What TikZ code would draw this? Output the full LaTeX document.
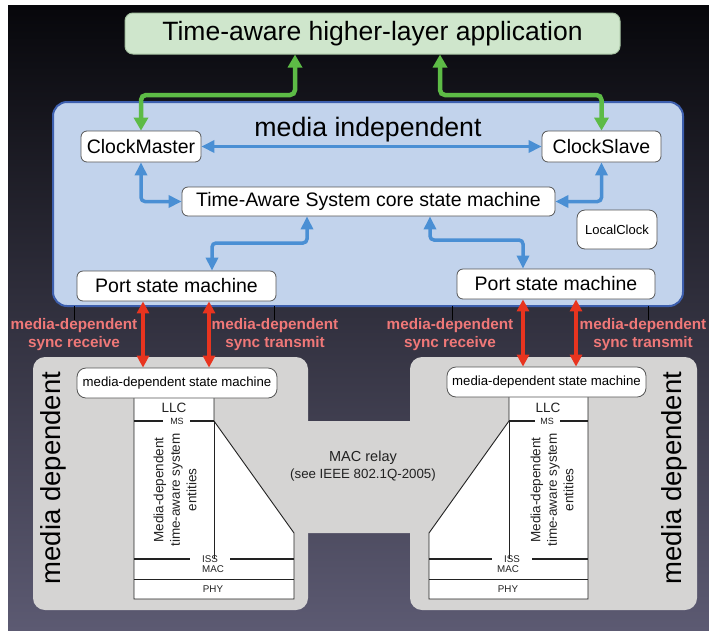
\documentclass[tikz,border=0pt]{standalone}
\usepackage{fontspec}
\setmainfont{Liberation Sans}
\usetikzlibrary{arrows.meta,calc}
\definecolor{bgtop}{HTML}{07070B}
\definecolor{bgmid}{HTML}{24243A}
\definecolor{bgbot}{HTML}{5C5A72}
\definecolor{appfill}{HTML}{CFE6CC}
\definecolor{appline}{HTML}{A8C4A4}
\definecolor{bluefill}{HTML}{C2D3EC}
\definecolor{bluebd}{HTML}{3D5FAE}
\definecolor{boxline}{HTML}{555555}
\definecolor{grayfill}{HTML}{D5D4D3}
\definecolor{garr}{HTML}{5DBB46}
\definecolor{barr}{HTML}{4A8FD4}
\definecolor{rarr}{HTML}{E8341F}
\definecolor{pinklbl}{HTML}{F07878}
\definecolor{strk}{HTML}{222222}
\begin{document}
\begin{tikzpicture}[x=1pt,y=-1pt,
  wbox/.style={draw=boxline, fill=white, rounded corners=6pt, line width=0.8pt, inner sep=0pt, text=black},
  bigf/.style={font=\fontsize{19.5}{23}\selectfont},
  garrow/.style={draw=garr, line width=4.5pt, rounded corners=5pt, {Triangle[width=14pt,length=13pt]}-{Triangle[width=14pt,length=13pt]}},
  barrow/.style={draw=barr, line width=3.5pt, rounded corners=4pt, {Triangle[width=12pt,length=13pt]}-{Triangle[width=12pt,length=13pt]}},
  rarrow/.style={draw=rarr, line width=3.5pt, {Triangle[width=12pt,length=12pt]}-{Triangle[width=12pt,length=12pt]}},
  plbl/.style={text=pinklbl, font=\bfseries\fontsize{15.3}{18}\selectfont, align=center, inner sep=0pt},
  strline/.style={draw=strk, line width=0.9pt},
  boldline/.style={draw=strk, line width=1.4pt},
  tiny/.style={font=\fontsize{9}{10}\selectfont, inner sep=0pt, text=strk},
  small/.style={font=\fontsize{9.8}{11}\selectfont, inner sep=0pt, text=strk},
  vtext/.style={rotate=90, align=center, font=\fontsize{13.5}{16.5}\selectfont, inner sep=0pt, text=strk},
  mdtext/.style={rotate=90, font=\fontsize{27.5}{30}\selectfont, inner sep=0pt, text=black}
]
\useasboundingbox (0,0) rectangle (709,630);
\fill[white] (0,0) rectangle (709,630);
\shade[top color=bgtop, middle color=bgmid, bottom color=bgbot] (8,5) rectangle (709,630);

% top application box
\node[fill=appfill, draw=appline, line width=1pt, rounded corners=8pt, minimum width=495pt, minimum height=41pt, inner sep=0pt, font=\fontsize{26.5}{30}\selectfont] (app) at (372.5,33.5) {Time-aware higher-layer application};

% media independent box
\node[draw=bluebd, fill=bluefill, line width=2pt, rounded corners=14pt, minimum width=630pt, minimum height=204pt, inner sep=0pt] (mi) at (368,204) {};
\node[font=\fontsize{26.7}{30}\selectfont, inner sep=0pt] (mitext) at (368,130) {media independent};

\node[wbox, bigf, minimum width=120pt, minimum height=31pt] (cm) at (141,146.5) {ClockMaster};
\node[wbox, bigf, minimum width=119pt, minimum height=31pt] (cs) at (601.5,146.5) {ClockSlave};
\node[wbox, bigf, minimum width=373pt, minimum height=29pt] (core) at (368.5,201.5) {Time-Aware System core state machine};
\node[wbox, font=\fontsize{13}{15}\selectfont, minimum width=80pt, minimum height=39pt, rounded corners=8pt] (lc) at (617,229.5) {LocalClock};
\node[wbox, bigf, minimum width=199pt, minimum height=30pt] (lport) at (176.5,286) {Port state machine};
\node[wbox, bigf, minimum width=198pt, minimum height=30pt] (rport) at (556,284) {Port state machine};

% coordinates for bends
\coordinate (gl) at (295,95);
\coordinate (gr) at (440,95);
\coordinate (bl1) at (307,243);
\coordinate (bl2) at (212,243);
\coordinate (br1) at (430,240);
\coordinate (br2) at (523,240);

% green arrows
\draw[garrow] (cm.north) |- (gl) -- (app.south -| gl);
\draw[garrow] (app.south -| gr) -- (gr) -| (cs.north);

% blue arrows
\draw[barrow] (cm.east) -- (cs.west);
\draw[barrow] (cm.south) |- (core.west);
\draw[barrow] (cs.south) |- (core.east);
\draw[barrow] (core.south -| bl1) -- (bl1) -- (bl2) -- (lport.north -| bl2);
\draw[barrow] (core.south -| br1) -- (br1) -- (br2) -- (rport.north -| br2);

% small ticks below the blue box
\foreach \tx/\tn in {74/ta,274/tb,452/tc,648/td}{
  \coordinate (\tn1) at (\tx,306);
  \coordinate (\tn2) at (\tx,320);
  \draw[draw=black, line width=0.9pt] (\tn1) -- (\tn2);
}

% media dependent gray boxes
\node[fill=grayfill, rounded corners=12pt, minimum width=275pt, minimum height=253pt, inner sep=0pt] (lgray) at (170.5,483.5) {};
\node[fill=grayfill, rounded corners=12pt, minimum width=287pt, minimum height=253pt, inner sep=0pt] (rgray) at (553.5,483.5) {};

% MAC relay trapezoid
\fill[grayfill] (214,421) -- (509,421) -- (429,533) -- (294,533) -- cycle;
\node[font=\fontsize{14.5}{16}\selectfont, inner sep=0pt, text=strk] (relay1) at (363,458) {MAC relay};
\node[font=\fontsize{13.3}{15}\selectfont, inner sep=0pt, text=strk] (relay2) at (363,475) {(see IEEE 802.1Q-2005)};

% left stack
\fill[white] (134,397) rectangle (214,421);
\fill[white] (134,421) -- (214,421) -- (294,533) -- (294,599) -- (134,599) -- cycle;
\draw[strline] (134,397) -- (134,599) -- (294,599) -- (294,533) -- (214,421) -- (214,397);
\draw[strline] (214,421) -- (214,559);
\draw[boldline] (134,421) -- (163,421);
\draw[boldline] (190,421) -- (214,421);
\draw[boldline] (134,559) -- (190,559);
\draw[boldline] (230,559) -- (294,559);
\draw[strline] (134,579) -- (294,579);
\node[font=\fontsize{13.5}{15}\selectfont, inner sep=0pt, text=strk] (llcL) at (174,408) {LLC};
\node[tiny] (msL) at (177,421) {MS};
\node[small] (issL) at (210,559) {ISS};
\node[small] (macL) at (213,569.5) {MAC};
\node[small] (phyL) at (213,589.5) {PHY};
\node[vtext] (entL) at (175,490) {Media-dependent\\time-aware system\\entities};

% right stack
\fill[white] (509,397) rectangle (588,421);
\fill[white] (509,421) -- (588,421) -- (588,599) -- (429,599) -- (429,533) -- cycle;
\draw[strline] (509,397) -- (509,421) -- (429,533) -- (429,599) -- (588,599) -- (588,397);
\draw[strline] (509,421) -- (509,559);
\draw[boldline] (509,421) -- (535,421);
\draw[boldline] (560,421) -- (588,421);
\draw[boldline] (429,559) -- (492,559);
\draw[boldline] (532,559) -- (588,559);
\draw[strline] (429,579) -- (588,579);
\node[font=\fontsize{13.5}{15}\selectfont, inner sep=0pt, text=strk] (llcR) at (548,408) {LLC};
\node[tiny] (msR) at (547,421) {MS};
\node[small] (issR) at (512,559) {ISS};
\node[small] (macR) at (508,569.5) {MAC};
\node[small] (phyR) at (508,589.5) {PHY};
\node[vtext] (entR) at (552,490) {Media-dependent\\time-aware system\\entities};

% media-dependent state machines
\node[wbox, font=\fontsize{13.2}{15}\selectfont, minimum width=200pt, minimum height=30pt, rounded corners=9pt] (lmd) at (177,383) {media-dependent state machine};
\node[wbox, font=\fontsize{13.2}{15}\selectfont, minimum width=199pt, minimum height=30pt, rounded corners=9pt] (rmd) at (546.5,382) {media-dependent state machine};

% rotated labels
\node[mdtext] (mdL) at (53,478) {media dependent};
\node[mdtext] (mdR) at (674,478) {media dependent};

% red arrows
\coordinate (r1) at (143,0);
\coordinate (r2) at (209,0);
\coordinate (r3) at (523,0);
\coordinate (r4) at (576,0);
\draw[rarrow] (lport.south -| r1) -- (lmd.north -| r1);
\draw[rarrow] (lport.south -| r2) -- (lmd.north -| r2);
\draw[rarrow] (rport.south -| r3) -- (rmd.north -| r3);
\draw[rarrow] (rport.south -| r4) -- (rmd.north -| r4);

% pink labels
\node[plbl] (lblA) at (74,335) {media-dependent\\sync receive};
\node[plbl] (lblB) at (275,335) {media-dependent\\sync transmit};
\node[plbl] (lblC) at (450,335) {media-dependent\\sync receive};
\node[plbl] (lblD) at (643,335) {media-dependent\\sync transmit};
\end{tikzpicture}
\end{document}
